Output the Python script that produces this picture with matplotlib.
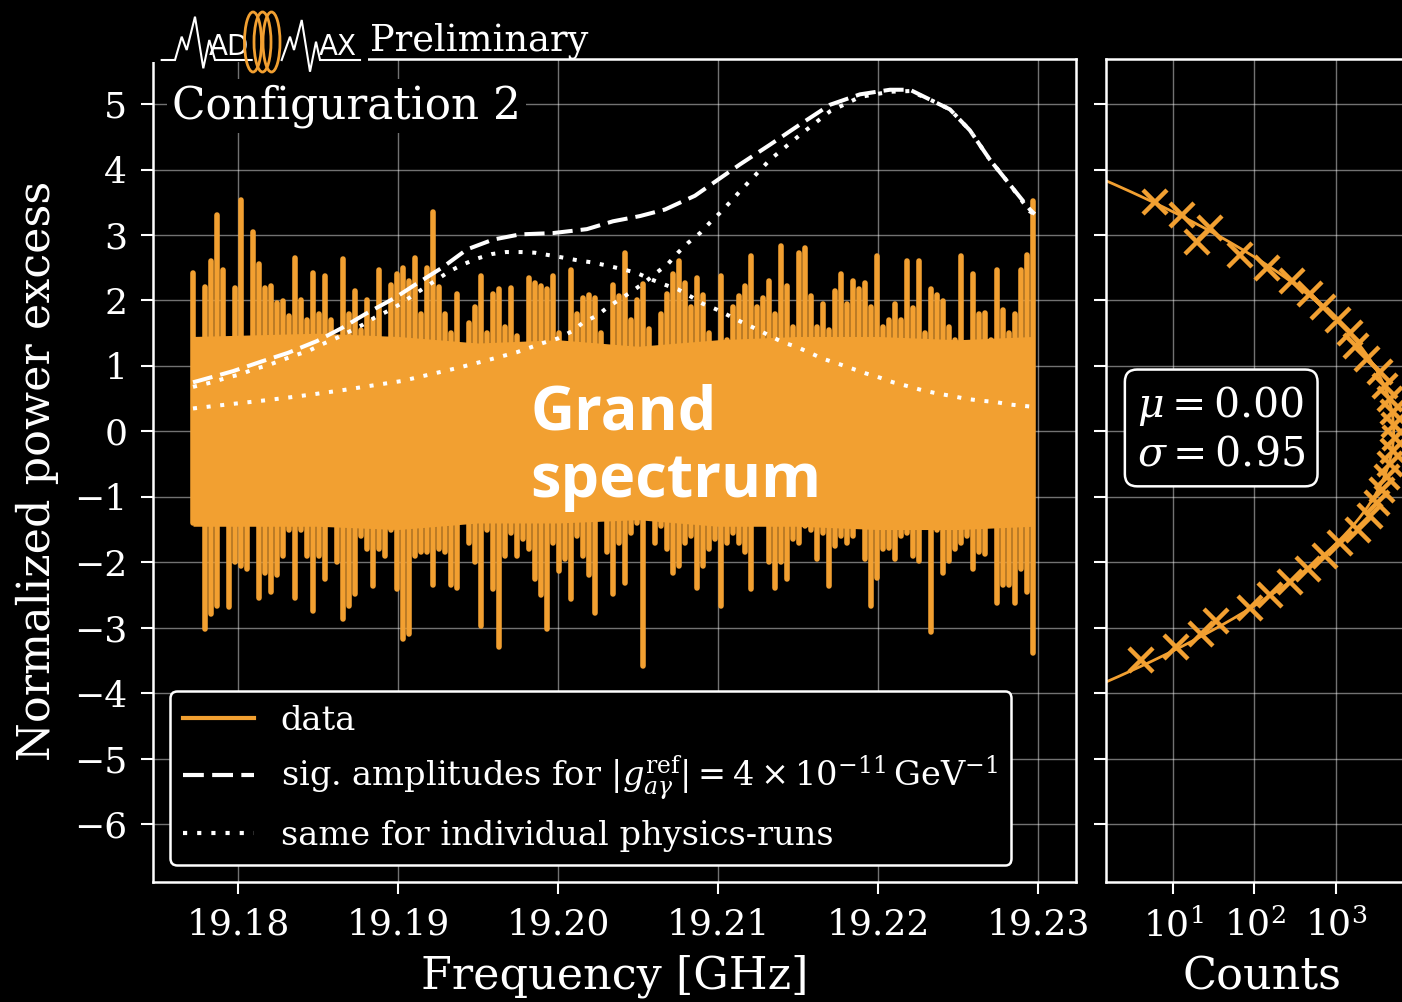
import numpy as np
import matplotlib
matplotlib.use('Agg')
import matplotlib.pyplot as plt
from matplotlib.patches import Ellipse, Rectangle
from matplotlib.lines import Line2D
from matplotlib.ticker import FixedLocator, NullLocator, FormatStrFormatter, LogFormatterSciNotation

plt.rcParams['font.family'] = ['DejaVu Serif']
plt.rcParams['mathtext.fontset'] = 'dejavuserif'

# ---------------- data ----------------
# grand spectrum: upper / lower excursions per frequency sample
freq_start, freq_stop, n_freq = 19.17719, 19.22969, 141
spec_hi = [2.42, 1.0, 2.2, 2.6, 3.31, 2.47, 1.4, 2.19, 3.53, 1.2, 3.04, 2.55, 2.19, 2.22, 1.96, 1.99, 1.76, 2.65,
           2.0, 1.7, 2.42, 1.8, 2.37, 1.7, 1.15, 2.63, 1.8, 2.14, 1.55, 2.0, 1.7, 2.47, 1.3, 2.24, 2.4, 2.5,
           2.3, 2.65, 1.8, 2.5, 3.35, 2.2, 1.8, 1.5, 2.1, 1.3, 1.65, 1.9, 2.37, 1.5, 2.1, 2.17, 1.6, 2.19,
           1.45, 1.1, 2.35, 2.27, 2.22, 2.17, 2.37, 1.5, 1.12, 2.47, 1.8, 2.04, 2.09, 2.04, 1.5, 1.28, 2.24, 2.07,
           2.73, 1.7, 2.0, 2.25, 1.56, 1.25, 1.8, 2.1, 2.4, 2.6, 2.27, 1.9, 2.35, 2.09, 1.5, 1.0, 2.37, 1.4,
           1.9, 2.07, 2.22, 2.68, 1.9, 2.04, 2.3, 1.8, 2.83, 2.22, 1.6, 2.73, 2.8, 2.07, 1.6, 1.94, 1.55, 2.14,
           2.4, 1.94, 2.3, 2.17, 2.27, 1.9, 2.68, 1.6, 1.7, 1.94, 1.7, 2.6, 1.89, 2.6, 1.5, 2.17, 2.09, 1.99,
           1.6, 1.4, 2.68, 1.15, 2.4, 1.8, 1.81, 1.4, 2.47, 1.86, 1.5, 1.8, 2.47, 2.7, 3.52]
spec_lo = [-1.4, -1.39, -3.02, -2.79, -2.67, -0.7, -2.69, -2.0, -2.06, -2.1, -1.1, -2.54, -2.16, -2.46, -2.2, -1.9,
           -1.5, -2.54, -1.5, -1.9, -2.74, -1.9, -2.26, -0.8, -2.0, -2.87, -2.67, -2.49, -1.6, -1.8, -2.36, -1.8,
           -1.9, -1.5, -2.41, -3.18,
           -3.1, -1.9, -1.85, -1.85, -2.34, -1.8, -1.85, -2.34, -2.39, -1.11, -1.7, -2.0, -2.97, -1.5, -2.41, -3.3,
           -1.9, -1.55, -1.9, -1.65, -1.8, -2.26, -2.5, -3.02, -1.7, -2.13, -1.95, -2.56, -1.6, -1.9, -2.2, -2.77,
           -1.1, -1.85, -2.49, -1.7,
           -2.31, -1.55, -1.4, -3.58, -1.14, -1.7, -1.45, -1.8, -2.16, -2.05, -1.7, -1.6, -2.39, -2.05, -1.8, -1.65,
           -2.67, -1.7, -1.55, -1.7, -1.85, -2.41, -1.4, -1.3, -2.0, -2.39, -2.0, -2.26, -1.65, -1.7, -1.45, -1.5,
           -1.95, -1.55, -2.36, -1.75,
           -1.6, -1.7, -1.6, -1.3, -1.95, -2.67, -2.24, -1.8, -1.78, -1.95, -1.6, -1.55, -1.9, -1.98, -0.68, -3.07,
           -1.5, -2.16, -1.98, -1.8, -1.7, -1.6, -2.1, -1.85, -1.88, -1.2, -2.62, -2.35, -2.34, -2.62, -2.1, -2.45,
           -3.38]
# dense core of the spectrum (envelope below which the trace is continuous)
core_f = [19.17719, 19.185, 19.19, 19.195, 19.20, 19.205, 19.21, 19.215, 19.22, 19.225, 19.22969]
core_hi = [1.45, 1.5, 1.45, 1.35, 1.4, 1.3, 1.4, 1.45, 1.45, 1.4, 1.45]
core_lo = [-1.45, -1.45, -1.5, -1.4, -1.4, -1.35, -1.45, -1.45, -1.5, -1.5, -1.45]

# combined signal amplitude (dashed)
sig_f = [19.17719, 19.1775, 19.17969, 19.1815, 19.18313, 19.18494, 19.1865, 19.18794, 19.18981, 19.19094,
         19.19275, 19.19431, 19.19594, 19.19763, 19.19969, 19.20181, 19.20344, 19.20513, 19.20669, 19.20856,
         19.21138, 19.21325, 19.21513, 19.217, 19.21888, 19.22075, 19.222, 19.22325, 19.2245, 19.22575,
         19.227, 19.22825, 19.2295, 19.2298]
sig_v = [0.75, 0.77, 0.92, 1.07, 1.2, 1.38, 1.58, 1.79, 2.04, 2.22, 2.5, 2.78, 2.93, 3.01, 3.03, 3.09, 3.21,
         3.29, 3.39, 3.6, 4.08, 4.38, 4.69, 4.99, 5.15, 5.22, 5.22, 5.07, 4.92, 4.6, 4.15, 3.77, 3.39, 3.32]

# individual physics-run A (dotted)
runA_f = [19.17719, 19.17838, 19.17931, 19.18013, 19.181, 19.18188, 19.18275, 19.18356, 19.1845, 19.18525,
          19.18619, 19.187, 19.18781, 19.18856, 19.18938, 19.19025, 19.19094, 19.19169, 19.1925, 19.19325,
          19.19406, 19.19494, 19.19588, 19.19675, 19.19769, 19.19856, 19.1995, 19.20044, 19.20131, 19.20219,
          19.20313, 19.204, 19.20494, 19.20575, 19.20669, 19.2075, 19.20831, 19.20906, 19.20994, 19.21075,
          19.21156, 19.21244, 19.21325, 19.21406, 19.21494, 19.21575, 19.21656, 19.21744, 19.21838, 19.21919,
          19.22013, 19.22094, 19.22188, 19.22275, 19.22369, 19.22463, 19.22544, 19.22638, 19.22731, 19.22825,
          19.2295, 19.2298]
runA_v = [0.68, 0.75, 0.82, 0.87, 0.95, 1.01, 1.09, 1.16, 1.24, 1.33, 1.43, 1.53, 1.63, 1.74, 1.84, 1.96, 2.08,
          2.2, 2.33, 2.45, 2.55, 2.64, 2.71, 2.74, 2.74, 2.73, 2.69, 2.65, 2.61, 2.58, 2.53, 2.48, 2.42, 2.33,
          2.24, 2.17, 2.06, 1.95, 1.86, 1.76, 1.66, 1.56, 1.46, 1.36, 1.29, 1.2, 1.11, 1.04, 0.96, 0.89, 0.82,
          0.75, 0.69, 0.63, 0.58, 0.54, 0.5, 0.47, 0.45, 0.41, 0.38, 0.37]

# individual physics-run B (dotted)
runB_f = [19.17719, 19.17931, 19.18119, 19.18294, 19.18481, 19.18656, 19.18838, 19.19025, 19.192, 19.19375,
          19.19563, 19.19744, 19.19906, 19.2, 19.20088, 19.20156, 19.20244, 19.20313, 19.20388, 19.20463,
          19.20544, 19.20619, 19.20688, 19.2075, 19.20813, 19.20888, 19.2095, 19.21013, 19.21075, 19.21138,
          19.21325, 19.21513, 19.217, 19.21888, 19.22075, 19.222, 19.22325, 19.2245, 19.22575, 19.227,
          19.22825, 19.2295, 19.2298]
runB_v = [0.35, 0.41, 0.46, 0.51, 0.57, 0.63, 0.70, 0.77, 0.87, 0.97, 1.09, 1.21, 1.35, 1.42, 1.53, 1.66, 1.77,
          1.9, 2.02, 2.14, 2.28, 2.43, 2.56, 2.73, 2.88, 3.03, 3.19, 3.34, 3.5, 3.67, 4.15, 4.53, 4.89, 5.11,
          5.19, 5.2, 5.07, 4.92, 4.6, 4.15, 3.77, 3.36, 3.32]

# histogram of the grand spectrum
hist_centers = [-3.5, -3.3, -3.1, -2.9, -2.7, -2.5, -2.3, -2.1, -1.9, -1.7, -1.5, -1.3, -1.1, -0.9, -0.7, -0.5,
                -0.3, -0.1, 0.1, 0.3, 0.5, 0.7, 0.9, 1.1, 1.3, 1.5, 1.7, 1.9, 2.1, 2.3, 2.5, 2.7, 2.9, 3.1,
                3.3, 3.5]
hist_counts = [4, 11, 22, 34, 88, 155, 273, 458, 733, 1120, 1860, 2630, 3160, 3650, 4250, 4600, 5000, 5300,
               5200, 5000, 4600, 4000, 3480, 2380, 1780, 1490, 1070, 700, 480, 286, 141, 66, 19.5, 28.4, 12.8, 6]
fit_mu, fit_sigma, fit_amp = 0.00, 0.95, 5100

x_ticks = [19.18, 19.19, 19.20, 19.21, 19.22, 19.23]
y_ticks = list(range(-6, 6))

# ---------------- figure ----------------
ORANGE = '#f2a031'
W, H = 1402, 1002
fig = plt.figure(figsize=(W / 100, H / 100), dpi=100, facecolor='black')


def frac(l, t, r, b):
    return [l / W, 1 - b / H, (r - l) / W, (b - t) / H]


ax = fig.add_axes(frac(153, 59, 1076, 882))
ax2 = fig.add_axes(frac(1106, 59, 1417.5, 882))

for a in (ax, ax2):
    a.set_facecolor('black')
    for s in a.spines.values():
        s.set_color('white')
        s.set_linewidth(1.8)
    a.tick_params(colors='white', labelcolor='white', length=8.5, width=1.5, labelsize=26, pad=10,
                  direction='out')
    a.grid(True, color='white', alpha=0.45, lw=1.0)
    a.set_axisbelow(True)
    a.set_ylim(-6.886, 5.69)
    a.yaxis.set_major_locator(FixedLocator(y_ticks))

# main panel
freq = np.linspace(freq_start, freq_stop, n_freq)
ax.fill_between(core_f, core_lo, core_hi, color=ORANGE, lw=0, zorder=2)
ax.vlines(freq, spec_lo, spec_hi, color=ORANGE, lw=4.0, capstyle='round', zorder=2)
ax.plot(sig_f, sig_v, color='white', lw=2.9, dashes=(5, 2), zorder=3)
ax.plot(runA_f, runA_v, color='white', lw=2.9, dashes=(1, 2.4), zorder=3)
ax.plot(runB_f, runB_v, color='white', lw=2.9, dashes=(1, 2.4), zorder=3)

ax.set_xlim(19.17469, 19.23238)
ax.xaxis.set_major_locator(FixedLocator(x_ticks))
ax.xaxis.set_major_formatter(FormatStrFormatter('%.2f'))
ax.set_xlabel('Frequency [GHz]', fontsize=32, color='white', labelpad=9)
ax.set_ylabel('Normalized power excess', fontsize=32, color='white', labelpad=11)

handles = [Line2D([], [], color=ORANGE, lw=3),
           Line2D([], [], color='white', lw=3, dashes=(5, 2)),
           Line2D([], [], color='white', lw=3, dashes=(1, 2.4))]
labels = ['data',
          r'sig. amplitudes for $|g_{a\gamma}^{\rm ref}| = 4 \times 10^{-11}\,\mathrm{GeV}^{-1}$',
          'same for individual physics-runs']
leg = ax.legend(handles, labels, loc='lower left', fontsize=24.2, frameon=True, facecolor='black',
                edgecolor='white', framealpha=1, fancybox=True, borderaxespad=0.5, handlelength=2.1,
                handletextpad=0.8, labelspacing=0.5, borderpad=0.4, labelcolor='white')
leg.get_frame().set_linewidth(1.8)
leg.set_zorder(5)

ax.text((172 - 153) / 923, (882 - 118) / 823, 'Configuration 2', transform=ax.transAxes, fontsize=31.5,
        color='white', va='baseline', ha='left', zorder=6,
        bbox=dict(boxstyle='square,pad=0.12', fc='black', ec='none'))

ax.text((530 - 153) / 923, (882 - 430) / 823, 'Grand', transform=ax.transAxes, fontsize=44,
        family=['Open Sans', 'DejaVu Sans'], weight='bold', color='white', va='baseline', ha='left', zorder=6)
ax.text((530 - 153) / 923, (882 - 497) / 823, 'spectrum', transform=ax.transAxes, fontsize=44,
        family=['Open Sans', 'DejaVu Sans'], weight='bold', color='white', va='baseline', ha='left', zorder=6)

# histogram panel
ax2.set_xscale('log')
ax2.set_xlim(1.507, 1e4)
ax2.xaxis.set_major_locator(FixedLocator([10, 100, 1000]))
ax2.xaxis.set_major_formatter(LogFormatterSciNotation())
ax2.xaxis.set_minor_locator(NullLocator())
ax2.tick_params(axis='y', labelleft=False)
fit_y = np.linspace(-4.5, 4.5, 500)
ax2.plot(fit_amp * np.exp(-(fit_y - fit_mu) ** 2 / (2 * fit_sigma ** 2)), fit_y, color=ORANGE, lw=2.0,
         zorder=2)
ax2.plot(hist_counts, hist_centers, ls='none', marker='x', ms=17, mew=3.2, color=ORANGE, zorder=3)
ax2.set_xlabel('Counts', fontsize=32, color='white', labelpad=9)
ax2.text(0.10, 0.5505, '$\\mu = %.2f$\n$\\sigma = %.2f$' % (fit_mu, fit_sigma), transform=ax2.transAxes,
         fontsize=29.5, color='white', va='center', ha='left', zorder=6,
         bbox=dict(boxstyle='round,pad=0.3', fc='black', ec='white', lw=1.8))

# ---------------- logo overlay ----------------
ov = fig.add_axes([0, 0, 1, 1])
ov.set_xlim(0, W)
ov.set_ylim(H, 0)
ov.axis('off')
ov.add_patch(Rectangle((150, 40), 218, 22, fc='black', ec='none', zorder=1))
wave1_x = [161.7, 175, 181.7, 186.7, 195, 203.3, 209.3, 215, 251.7]
wave1_y = [60, 60, 36.7, 50, 16.7, 68.3, 40, 60, 60]
wave2_x = [281.7, 290, 294, 301.7, 310, 316, 320, 360]
wave2_y = [60, 36.7, 50, 20, 71.7, 41.7, 60, 60]
ov.plot(wave1_x, wave1_y, color='white', lw=1.5, zorder=3, solid_joinstyle='miter')
ov.plot(wave2_x, wave2_y, color='white', lw=1.5, zorder=3, solid_joinstyle='miter')
ov.text(209, 55, 'AD', fontsize=20, family='DejaVu Sans', color='white', va='baseline', ha='left', zorder=3)
ov.text(319, 55, 'AX', fontsize=20, family='DejaVu Sans', color='white', va='baseline', ha='left', zorder=3)
for cx in (253, 262.5, 271.5):
    ov.add_patch(Ellipse((cx, 42), 17, 60, fill=False, ec=ORANGE, lw=2, zorder=4))
ov.text(370, 50, 'Preliminary', fontsize=26.5, color='white', va='baseline', ha='left', zorder=3)

fig.savefig('out.png', dpi=100, facecolor='black')
